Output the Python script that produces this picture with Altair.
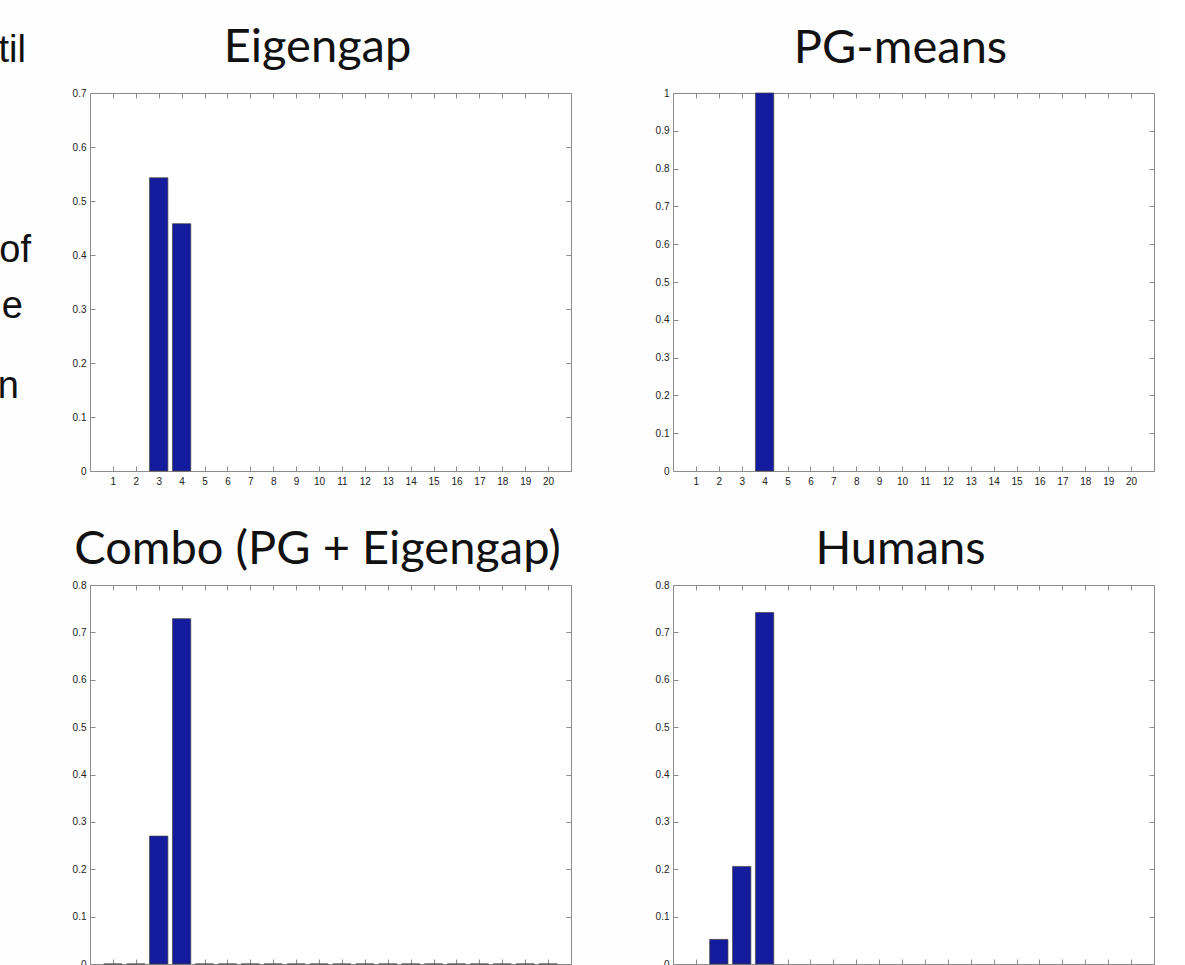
import altair as alt
import pandas as pd

# ---- data ----
positions = [1, 2, 3, 4, 5, 6, 7, 8, 9, 10, 11, 12, 13, 14, 15, 16, 17, 18, 19, 20]
eigengap = [0, 0, 0.543, 0.458, 0, 0, 0, 0, 0, 0, 0, 0, 0, 0, 0, 0, 0, 0, 0, 0]
pgmeans = [0, 0, 0, 1.0, 0, 0, 0, 0, 0, 0, 0, 0, 0, 0, 0, 0, 0, 0, 0, 0]
combo = [0, 0, 0.270, 0.729, 0, 0, 0, 0, 0, 0, 0, 0, 0, 0, 0, 0, 0, 0, 0, 0]
humans = [0, 0.052, 0.206, 0.742, 0, 0, 0, 0, 0, 0, 0, 0, 0, 0, 0, 0, 0, 0, 0, 0]

yticks_07 = [0, 0.1, 0.2, 0.3, 0.4, 0.5, 0.6, 0.7]
yticks_10 = [0, 0.1, 0.2, 0.3, 0.4, 0.5, 0.6, 0.7, 0.8, 0.9, 1.0]
yticks_08 = [0, 0.1, 0.2, 0.3, 0.4, 0.5, 0.6, 0.7, 0.8]

titles = ["Eigengap", "PG-means", "Combo (PG + Eigengap)", "Humans"]

# cropped slide text at the left edge (right edge / baseline, relative to first panel)
frag_text = ["til", "of", "e", "n"]
frag_x = [-64, -59, -67, -71]
frag_y = [-31, 169, 225, 305]

BAR = "#141b9c"
FRAME = "#8c8c8c"
LABEL = "#222222"


def panel(title, values, yticks, ymax, height, title_offset, show_x_labels, keep_zero, frags=False):
    df = pd.DataFrame({"k": positions, "v": values})
    base = alt.Chart(df).transform_calculate(x0="datum.k - 0.4", x1="datum.k + 0.4")
    if not keep_zero:
        base = base.transform_filter("datum.v > 0")
    xs = alt.Scale(domain=[0, 21], nice=False, zero=False)
    ys = alt.Scale(domain=[0, ymax], nice=False, zero=True)
    common = dict(domain=False, grid=False, tickSize=5, offset=-5, tickColor=FRAME,
                  tickWidth=1, labelFont="Liberation Sans", labelFontSize=10,
                  labelColor=LABEL, labelOverlap=False, labelFlush=False)
    bars = base.mark_bar(color=BAR, stroke="#444444", strokeWidth=0.7).encode(
        x=alt.X("x0:Q", scale=xs, title=None,
                axis=alt.Axis(orient="bottom", values=positions, labels=show_x_labels,
                              labelPadding=5, **common)),
        x2="x1:Q",
        y=alt.Y("v:Q", scale=ys, title=None,
                axis=alt.Axis(orient="left", values=yticks, format="~g",
                              labelPadding=4, **common)),
        y2=alt.datum(0),
    )
    mirror = base.mark_bar(opacity=0).encode(
        x=alt.X("x0:Q", scale=xs, title=None,
                axis=alt.Axis(orient="top", values=positions, labels=False, **common)),
        x2="x1:Q",
        y=alt.Y("v:Q", scale=ys, title=None,
                axis=alt.Axis(orient="right", values=yticks, labels=False, **common)),
        y2=alt.datum(0),
    )
    layers = [bars, mirror]
    if frags:
        one = pd.DataFrame({"a": [0]})
        for t, fx, fy in zip(frag_text, frag_x, frag_y):
            layers.append(
                alt.Chart(one).mark_text(align="right", baseline="alphabetic",
                                         font="Liberation Sans", fontSize=38,
                                         color="#111111")
                .encode(x=alt.value(fx), y=alt.value(fy), text=alt.value(t))
            )
    return (
        alt.layer(*layers)
        .resolve_axis(x="independent", y="independent")
        .properties(
            width=481,
            height=height,
            title=alt.TitleParams(title, anchor="middle", dx=-13, offset=title_offset,
                                  baseline="alphabetic", font="Lato", fontSize=47,
                                  fontWeight="normal", color="#111111"),
        )
    )


p1 = panel(titles[0], eigengap, yticks_07, 0.7, 378, -77, True, False, frags=True)
p2 = panel(titles[1], pgmeans, yticks_10, 1.0, 378, -22, True, False)
p3 = panel(titles[2], combo, yticks_08, 0.8, 379, -31, False, True)
p4 = panel(titles[3], humans, yticks_08, 0.8, 379, -31, False, False)

chart = (
    alt.concat(p1, p2, p3, p4, columns=2, spacing={"row": 114, "column": 102}, bounds="flush")
    .properties(padding={"left": -3, "top": 23, "right": 0, "bottom": 0}, background="#fefefe")
    .configure_view(stroke=FRAME, strokeWidth=1, fill="white")
)

chart.save("out.html", embed_options={"renderer": "svg", "actions": False})
